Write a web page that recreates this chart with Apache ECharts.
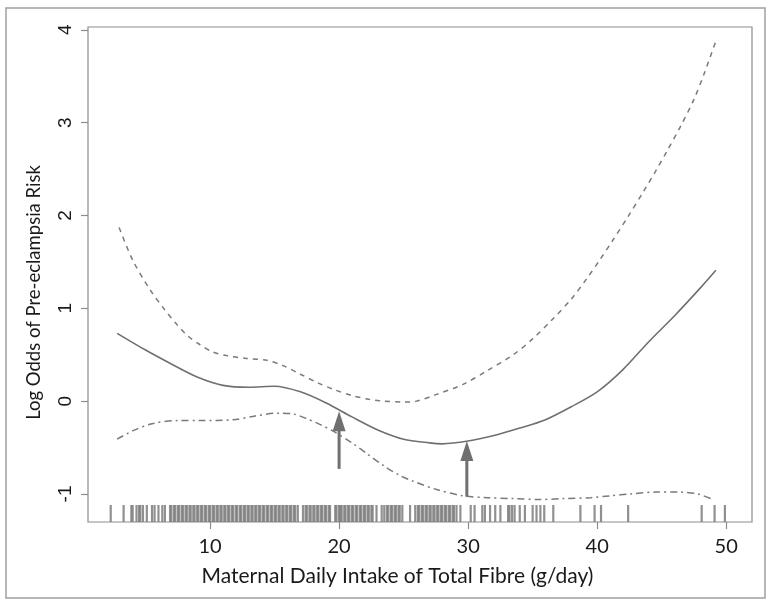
<!DOCTYPE html>
<html>
<head>
<meta charset="utf-8">
<script src="https://cdn.jsdelivr.net/npm/echarts@6/dist/echarts.min.js"></script>
<style>html,body{margin:0;padding:0;background:#fff;}#c{width:768px;height:608px;}</style>
</head>
<body>
<div id="c"></div>
<script>
// ---- data ----
const xTicks = [10, 20, 30, 40, 50];
const yTicks = [-1, 0, 1, 2, 3, 4];

const fitX = [2.8, 5, 7, 9, 11, 13, 15, 17, 19, 21, 23, 25, 27, 28, 30, 32, 34, 36, 38, 40, 42, 44, 46, 48, 49.2];
const fitY = [0.73, 0.55, 0.40, 0.26, 0.17, 0.15, 0.16, 0.10, -0.02, -0.17, -0.31, -0.41, -0.45, -0.46, -0.43, -0.37, -0.29, -0.20, -0.06, 0.10, 0.34, 0.64, 0.92, 1.22, 1.41];

const upX = [2.95, 4, 5.3, 6.4, 7.4, 8.3, 9.2, 10.2, 11.3, 12.8, 14.4, 15.7, 17, 18.3, 19.5, 21, 22.3, 23.4, 25, 26, 27.5, 29.6, 31.5, 33.5, 35, 36.6, 38, 39.2, 40.2, 41.2, 42.4, 43.6, 44.5, 45.4, 46.5, 47.5, 48.3, 49.2];
const upY = [1.87, 1.52, 1.21, 1.00, 0.83, 0.70, 0.61, 0.53, 0.49, 0.46, 0.44, 0.38, 0.29, 0.20, 0.13, 0.06, 0.02, 0.00, -0.01, 0.00, 0.07, 0.18, 0.33, 0.50, 0.67, 0.89, 1.10, 1.32, 1.52, 1.73, 1.99, 2.26, 2.47, 2.69, 2.97, 3.25, 3.53, 3.88];

const loX = [2.8, 4, 5.6, 7.5, 9.2, 11.8, 13.5, 15.2, 16.5, 17.5, 18.5, 19.5, 21, 22.2, 23.5, 24.7, 25.7, 27.5, 29.6, 31.5, 33.5, 35.5, 37.4, 39.5, 41, 42.6, 44.5, 46.4, 47.8, 48.8];
const loY = [-0.41, -0.32, -0.24, -0.21, -0.21, -0.20, -0.16, -0.13, -0.14, -0.19, -0.25, -0.32, -0.45, -0.57, -0.70, -0.80, -0.86, -0.95, -1.02, -1.04, -1.05, -1.06, -1.05, -1.04, -1.02, -1.00, -0.98, -0.98, -1.00, -1.05];

const rugX = [2.3, 3.3, 3.9, 4.0, 4.3, 4.5, 4.6, 4.8, 5.1, 5.5, 5.7, 6.0, 6.3, 6.5,
  6.9, 7.0, 7.2, 7.3, 7.5, 7.6, 7.8, 7.9, 8.1, 8.2, 8.4, 8.5, 8.7, 8.8, 9.0, 9.1, 9.3, 9.4, 9.6, 9.7, 9.9,
  10.0, 10.2, 10.3, 10.5, 10.6, 10.8, 10.9, 11.1, 11.2, 11.4, 11.5, 11.7, 11.8, 12.0, 12.1, 12.3, 12.4, 12.6, 12.7, 12.9,
  13.0, 13.2, 13.3, 13.5, 13.6, 13.8, 13.9, 14.1, 14.2, 14.4, 14.5, 14.7, 14.8, 15.0, 15.1, 15.3, 15.4, 15.6, 15.7, 15.9,
  16.0, 16.2, 16.3, 16.5, 16.6, 16.8, 17.2, 17.4, 17.5, 17.7, 17.8, 18.0, 18.1, 18.3, 18.4, 18.6, 18.7, 18.9,
  19.0, 19.2, 19.3, 19.7, 19.8, 20.0, 20.1, 20.2, 20.4, 20.5, 20.7, 20.8, 21.0, 21.1, 21.3, 21.4, 21.6, 21.7, 21.9,
  22.0, 22.2, 22.3, 22.5, 22.6, 22.9, 23.3, 23.5, 23.7, 23.8, 24.0, 24.1, 24.3, 24.4, 24.6, 24.7, 24.9,
  25.5, 25.9, 26.1, 26.2, 26.4, 26.5, 26.7, 26.8, 27.0, 27.1, 27.3, 27.4, 27.6, 27.7, 27.9, 28.0, 28.2, 28.3, 28.5, 28.6, 28.8, 28.9, 29.1,
  29.4, 30.2, 30.5, 31.1, 31.3, 31.7, 32.1, 32.5, 33.1, 33.2, 33.4, 33.6, 34.0, 34.4, 35.0, 35.3, 35.6, 35.9, 36.6, 38.7,
  39.8, 40.3, 42.4, 48.1, 49.1, 49.9];

const arrowX = [20, 29.9];
const arrowTail = [-0.73, -1.03];
const arrowTip = [-0.11, -0.43];

// ---- chart ----
const X_MIN = 0.54, X_MAX = 52.0;
const Y_MIN = -1.302, Y_MAX = 4.03;

const pairs = (xs, ys) => xs.map((x, i) => [x, ys[i]]);

const chart = echarts.init(document.getElementById('c'), null, {renderer: 'canvas'});
chart.setOption({
  animation: false,
  backgroundColor: '#fff',
  graphic: [{
    type: 'rect', shape: {x: 6, y: 8, width: 759, height: 590},
    style: {fill: 'none', stroke: '#a0a0a0', lineWidth: 1.5}, silent: true, z: -1
  }],
  grid: {left: 88, top: 27, right: 16, bottom: 86, show: true, borderColor: '#8c8c8c', borderWidth: 1.2, backgroundColor: 'transparent'},
  xAxis: {
    type: 'value', min: X_MIN, max: X_MAX,
    name: 'Maternal Daily Intake of Total Fibre (g/day)',
    nameLocation: 'middle', nameGap: 44,
    nameTextStyle: {fontFamily: 'Lato', fontSize: 21, color: '#1a1a1a', padding: [0, 45, 0, 0]},
    axisLine: {show: false, onZero: false},
    splitLine: {show: false},
    axisTick: {show: true, length: 7, lineStyle: {color: '#8c8c8c', width: 1.2}, customValues: xTicks},
    axisLabel: {fontFamily: 'Lato', fontSize: 20, color: '#1a1a1a', margin: 15, customValues: xTicks}
  },
  yAxis: {
    type: 'value', min: Y_MIN, max: Y_MAX,
    name: 'Log Odds of Pre-eclampsia Risk',
    nameLocation: 'middle', nameGap: 44, nameRotate: 90,
    nameTextStyle: {fontFamily: 'Lato', fontSize: 18.5, color: '#1a1a1a', padding: [0, 36, 0, 0]},
    axisLine: {show: false, onZero: false},
    splitLine: {show: false},
    axisTick: {show: true, length: 7, lineStyle: {color: '#8c8c8c', width: 1.2}, customValues: yTicks},
    axisLabel: {fontFamily: 'Liberation Sans', fontSize: 19, color: '#1a1a1a', margin: 13, rotate: 90, customValues: yTicks}
  },
  series: [
    {type: 'line', data: pairs(fitX, fitY), symbol: 'none', smooth: 0.3,
     lineStyle: {color: '#707070', width: 1.6}},
    {type: 'line', data: pairs(upX, upY), symbol: 'none', smooth: 0.3,
     lineStyle: {color: '#7a7a7a', width: 1.5, type: [5, 5]}},
    {type: 'line', data: pairs(loX, loY), symbol: 'none', smooth: 0.3,
     lineStyle: {color: '#7a7a7a', width: 1.5, type: [7, 4, 2, 4]}},
    {type: 'custom', data: rugX.map(v => [v, Y_MIN]), encode: {x: 0, y: 1},
     renderItem: function (params, api) {
       const p = api.coord([api.value(0), Y_MIN]);
       return {type: 'line', shape: {x1: p[0], y1: p[1], x2: p[0], y2: p[1] - 17},
               style: {stroke: '#7c7c7c', lineWidth: 2.2, opacity: 0.85}};
     }},
    {type: 'custom', data: arrowX.map((x, i) => [x, arrowTail[i], arrowTip[i]]), encode: {x: 0, y: [1, 2]},
     renderItem: function (params, api) {
       const x = api.value(0);
       const a = api.coord([x, api.value(1)]);
       const b = api.coord([x, api.value(2)]);
       const headL = 20, headW = 13;
       return {type: 'group', children: [
         {type: 'line', shape: {x1: a[0], y1: a[1], x2: b[0], y2: b[1] + headL - 2},
          style: {stroke: '#707070', lineWidth: 3}},
         {type: 'polygon', shape: {points: [[b[0], b[1]], [b[0] - headW / 2, b[1] + headL], [b[0] + headW / 2, b[1] + headL]]},
          style: {fill: '#707070'}}
       ]};
     }}
  ]
});
</script>
</body>
</html>
